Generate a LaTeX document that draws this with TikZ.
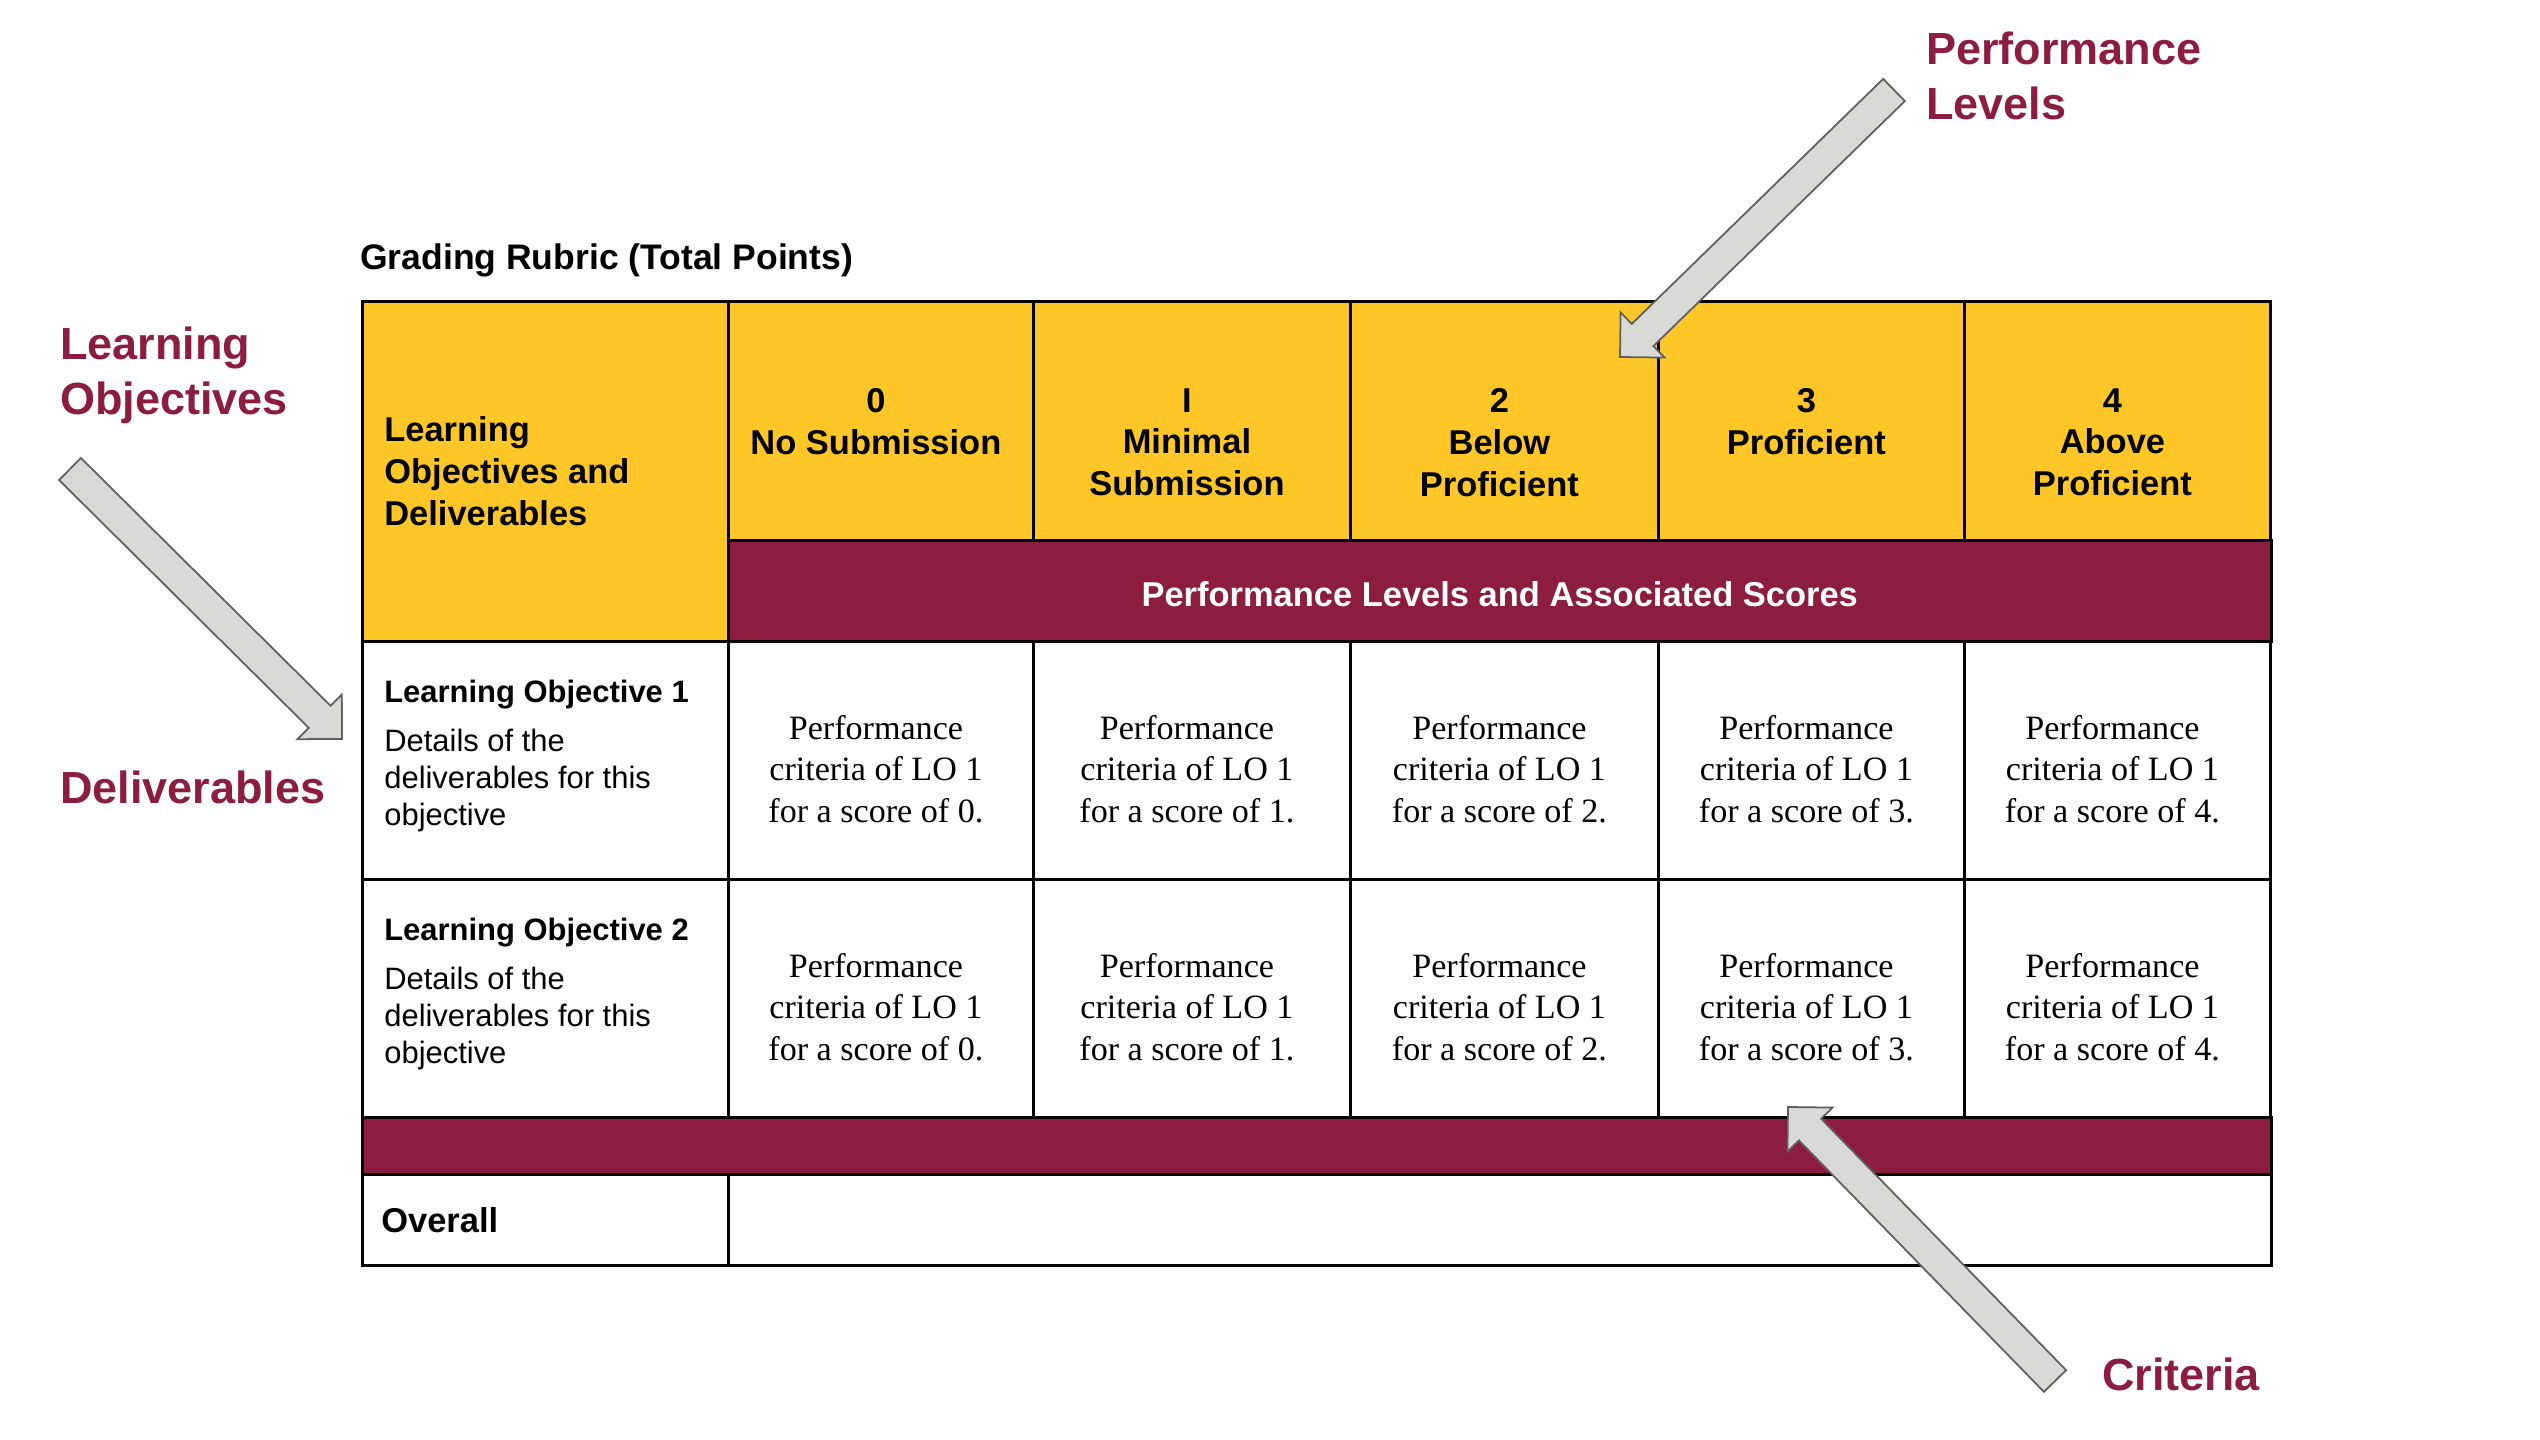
\documentclass[tikz,border=0pt]{standalone}
\usepackage{fontspec}
\setmainfont{Liberation Serif}
\setsansfont{Liberation Sans}
\usepackage{xcolor}
\usetikzlibrary{calc}
\usetikzlibrary{positioning}
\definecolor{asugold}{HTML}{FFC627}
\definecolor{asumaroon}{HTML}{8C1D40}
\definecolor{arrowgray}{HTML}{D9D9D6}
\definecolor{arrowline}{HTML}{5F5F5F}

\begin{document}
\begin{tikzpicture}[x=0.01cm, y=-0.01cm, font=\sffamily, line width=0.75pt]
		\tikzstyle{cell}=[draw=black, rectangle, fill=white, anchor=north west, inner sep=0pt, minimum height=2.38cm]
		\tikzstyle{goldcell}=[cell, fill=asugold]
		\tikzstyle{bandcell}=[cell, fill=asumaroon]
		\tikzstyle{headtext}=[inner sep=0pt, align=center, font=\sffamily\bfseries\fontsize{9.8}{11.9}\selectfont]
		\tikzstyle{lotext}=[inner sep=0pt, align=left, font=\sffamily\fontsize{8.8}{10.5}\selectfont]
		\tikzstyle{crittext}=[inner sep=0pt, align=center, xshift=-0.05cm, font=\rmfamily\fontsize{9.7}{11.8}\selectfont]
		\tikzstyle{callout}=[inner sep=0pt, align=left, text=asumaroon, font=\sffamily\bfseries\fontsize{12.8}{15.6}\selectfont]
		\tikzstyle{blockarrow}=[fill=arrowgray, draw=arrowline, line width=0.5pt, line join=miter]
		
		\useasboundingbox (0,0) rectangle (2540,1440);
		
		% header
		\node[goldcell, minimum width=3.66cm, minimum height=3.40cm] (lohead) at (361,300) {};
		\node[headtext, align=left, right=0.22cm of lohead.west] {Learning\\Objectives and\\Deliverables};
		\node[headtext, font=\sffamily\bfseries\fontsize{10.1}{12}\selectfont, above right=0.22cm and -0.02cm of lohead.north west] (title) {Grading Rubric (Total Points)};
		
		\foreach \i/\x/\w/\lvl in {0/727/3.05/{0\\No Submission}, 1/1032/3.17/{I\\Minimal\\Submission}, 2/1349/3.08/{2\\Below\\Proficient}, 3/1657/3.06/{3\\Proficient}, 4/1963/3.06/{4\\Above\\Proficient}} {
			\node[goldcell, minimum width=\w cm, minimum height=2.39cm] (hd\i) at (\x,300) {};
			\node[headtext, xshift=-0.05cm, below=0.87cm of hd\i.north] {\lvl};
			\node[cell, minimum width=\w cm] (ca\i) at (\x,640) {};
			\node[crittext, below=0.74cm of ca\i.north] {Performance\\criteria of LO 1\\for a score of \i.};
			\node[cell, minimum width=\w cm] (cb\i) at (\x,878) {};
			\node[crittext, below=0.74cm of cb\i.north] {Performance\\criteria of LO 1\\for a score of \i.};
		}
		
		\node[bandcell, minimum width=15.42cm, minimum height=1.01cm] (band) at (727,539) {};
		\node[headtext, text=white, yshift=-0.03cm] at (band) {Performance Levels and Associated Scores};
		
		% objectives
		\node[cell, minimum width=3.66cm] (lo1) at (361,640) {};
		\node[lotext, below right=0.39cm and 0.22cm of lo1.north west] {\textbf{Learning Objective 1}\\[3.4pt]Details of the\\deliverables for this\\objective};
		\node[cell, minimum width=3.66cm] (lo2) at (361,878) {};
		\node[lotext, below right=0.39cm and 0.22cm of lo2.north west] {\textbf{Learning Objective 2}\\[3.4pt]Details of the\\deliverables for this\\objective};
		
		\node[bandcell, minimum width=19.08cm, minimum height=0.57cm] (bar) at (361,1116) {};
		\node[cell, minimum width=3.66cm, minimum height=0.91cm] (overall) at (361,1173) {};
		\node[headtext, right=0.19cm of overall.west] {Overall};
		\node[cell, minimum width=15.42cm, minimum height=0.91cm] (total) at (727,1173) {};
		
		% callouts
		\node[callout, anchor=north west] (lo) at (59,326) {Learning\\Objectives};
		\node[callout, anchor=base west] (dl) at (59,803) {Deliverables};
		\node[callout, anchor=north west] (pl) at (1925,31) {Performance\\Levels};
		\node[callout, anchor=base west] (cr) at (2101,1390) {Criteria};
		
		\coordinate (lo-tail) at (70,469);
		\coordinate (lo-tip) at (342,739);
		\coordinate (pl-tail) at (1894,90);
		\coordinate (pl-tip) at (1620,357);
		\coordinate (cr-tail) at (2055,1381);
		\coordinate (cr-tip) at (1788,1107);
		
		\foreach \a in {lo,pl,cr} {
			\coordinate (\a-base) at ($(\a-tip)!0.315cm!(\a-tail)$);
			\draw[blockarrow] ($(\a-tail)!0.155cm!90:(\a-tip)$) -- ($(\a-base)!0.155cm!90:(\a-tip)$) -- ($(\a-base)!0.315cm!90:(\a-tip)$) -- (\a-tip) -- ($(\a-base)!0.315cm!-90:(\a-tip)$) -- ($(\a-base)!0.155cm!-90:(\a-tip)$) -- ($(\a-tail)!0.155cm!-90:(\a-tip)$) -- cycle;
		}
	\end{tikzpicture}
\end{document}
